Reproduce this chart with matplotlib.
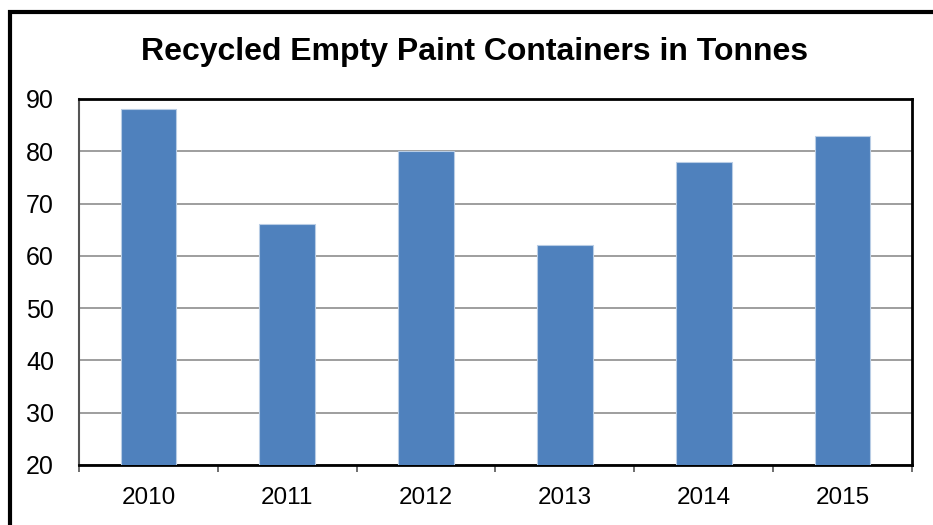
import matplotlib.pyplot as plt
from matplotlib.patches import Rectangle

YEARS = ["2010", "2011", "2012", "2013", "2014", "2015"]
TONNES = [88, 66, 80, 62, 78, 83]
Y_TICKS = [20, 30, 40, 50, 60, 70, 80, 90]

BAR_COLOR = "#4F81BD"
W, H, DPI = 933, 525, 100

plt.rcParams["font.family"] = ["Liberation Sans", "DejaVu Sans"]

fig = plt.figure(figsize=(W / DPI, H / DPI), dpi=DPI)
ax = fig.add_axes([79 / W, 1 - 465 / H, (912 - 79) / W, (465 - 99) / H])

x = list(range(len(YEARS)))
ax.bar(x, TONNES, width=0.4, bottom=0, color=BAR_COLOR,
       edgecolor="#B9CDE5", linewidth=0.8, zorder=3)

ax.set_ylim(20, 90)
ax.set_xlim(-0.5, len(YEARS) - 0.5)
ax.set_yticks(Y_TICKS)
ax.set_yticklabels([str(v) for v in Y_TICKS], fontsize=18)
ax.yaxis.grid(True, color="#969696", linewidth=1.3, zorder=0)
ax.tick_params(axis="y", length=0, pad=18)

# category labels centred, tick marks at category boundaries
ax.set_xticks(x)
ax.set_xticklabels(YEARS, fontsize=17.5)
ax.tick_params(axis="x", which="major", length=0, pad=15.5)
ax.set_xticks([i - 0.5 for i in range(len(YEARS) + 1)], minor=True)
ax.tick_params(axis="x", which="minor", length=5, width=1.2, color="#555555")

for side in ["top", "right", "bottom"]:
    ax.spines[side].set_color("black")
    ax.spines[side].set_linewidth(2)
ax.spines["left"].set_color("#555555")
ax.spines["left"].set_linewidth(1.5)

fig.text(475 / W, 1 - 52 / H, "Recycled Empty Paint Containers in Tonnes",
         ha="center", va="center", fontsize=23, fontweight="bold")

# outer chart border (runs off the right and bottom edges)
fig.patches.append(Rectangle((10 / W, -0.2), 1.2, 1.2 - 12 / H,
                             transform=fig.transFigure, fill=False,
                             edgecolor="black", linewidth=3, zorder=10))

fig.savefig("out.png", dpi=DPI)
